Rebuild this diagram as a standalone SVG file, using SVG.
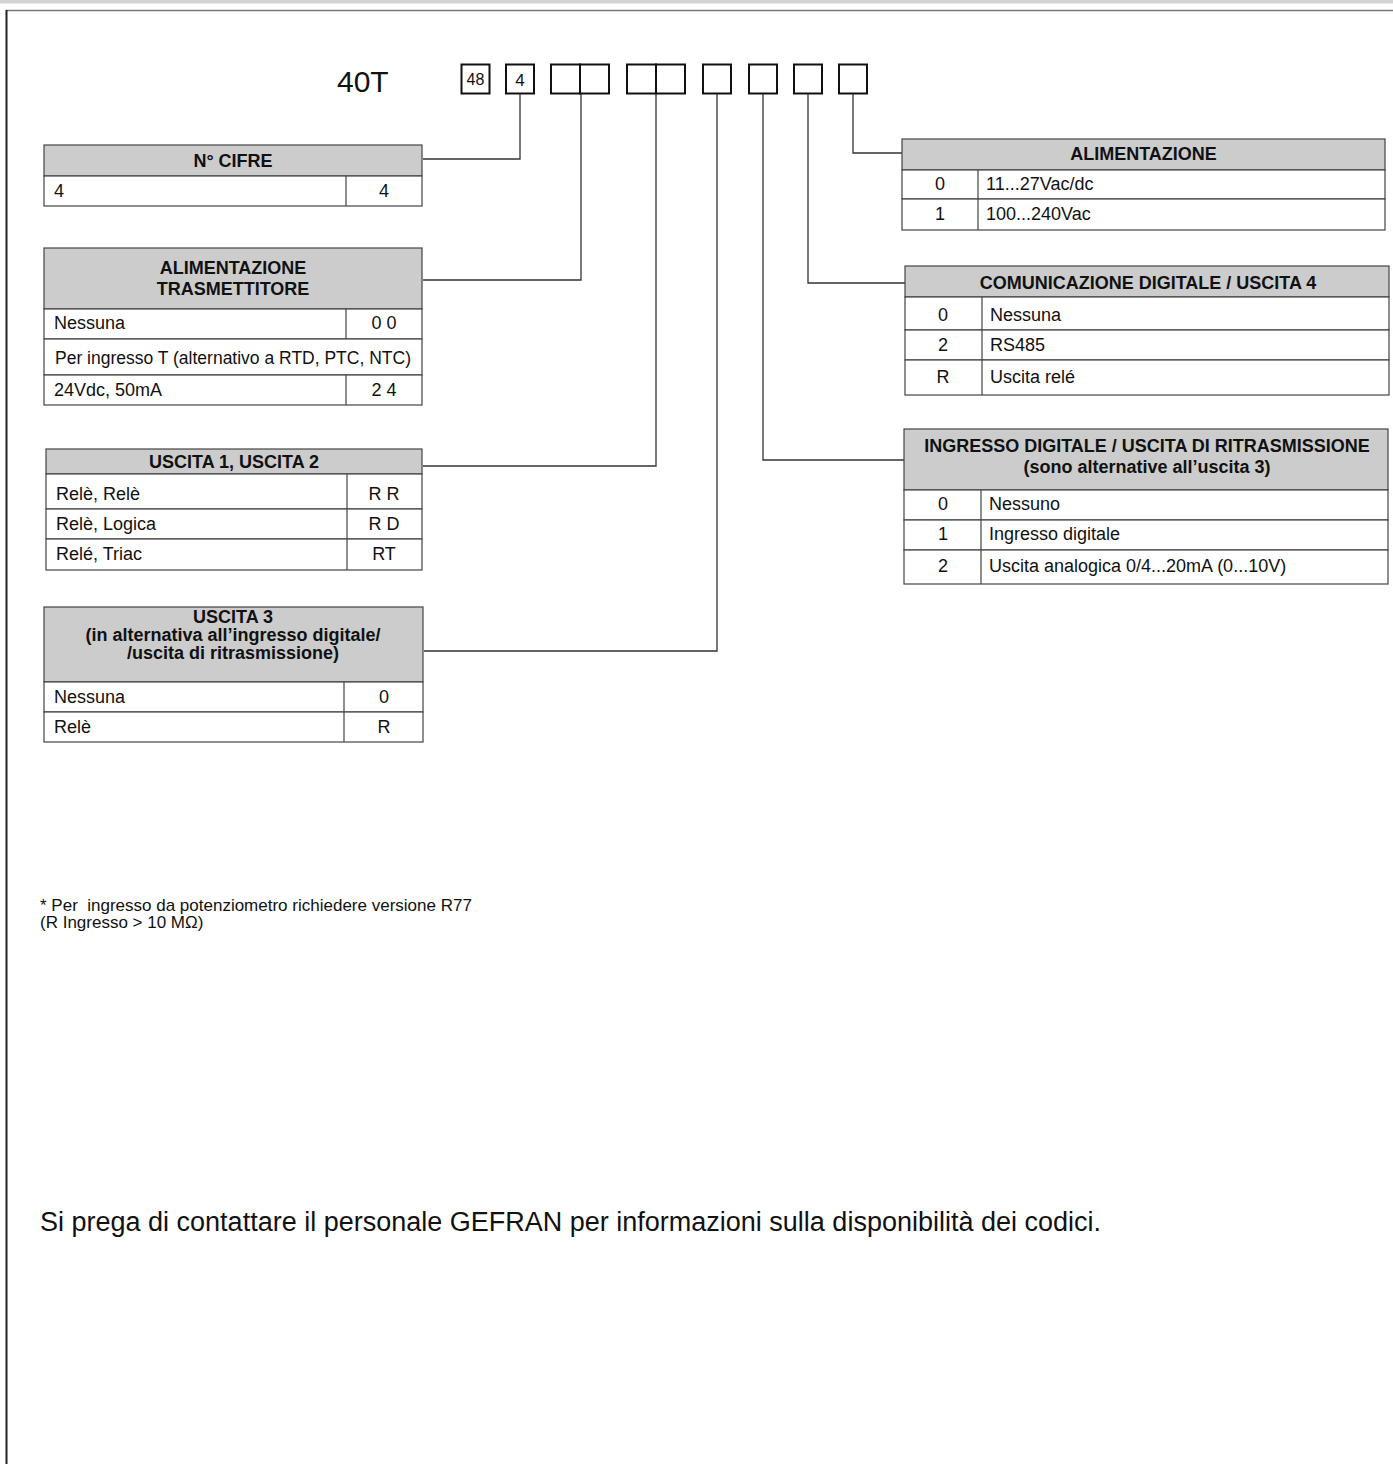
<svg xmlns="http://www.w3.org/2000/svg" width="1393" height="1464" viewBox="0 0 1393 1464">
<style>
.hdr{fill:#cccccc;stroke:#444;stroke-width:1.2}
.cell{fill:#fff;stroke:#444;stroke-width:1.2}
.div{stroke:#444;stroke-width:1.2}
.t{font-family:"Liberation Sans",Arial,sans-serif;font-size:18px;fill:#111}
.b{font-weight:bold}
.m{text-anchor:middle}
.conn{fill:none;stroke:#333;stroke-width:1.3}
.box{fill:#fff;stroke:#111;stroke-width:2}
</style>
<rect x="0" y="0" width="1393" height="1464" fill="#fff"/>
<g id="frame">
<rect x="0" y="0" width="1393" height="3.5" fill="#d2d2d2"/>
<line x1="6" y1="10.5" x2="1393" y2="10.5" stroke="#777" stroke-width="1.5"/>
<line x1="6.5" y1="10" x2="6.5" y2="1464" stroke="#222" stroke-width="2"/>
</g>
<g id="code">
<text class="t" x="337" y="92" style="font-size:30px">40T</text>
<rect class="box" x="461.5" y="64.5" width="28" height="29"/>
<text class="t m" x="475.5" y="85" style="font-size:16px">48</text>
<rect class="box" x="506" y="64.5" width="28" height="29"/>
<text class="t m" x="520" y="86" style="font-size:17px">4</text>
<rect class="box" x="551" y="64.5" width="29" height="29"/>
<rect class="box" x="580" y="64.5" width="29" height="29"/>
<rect class="box" x="627" y="64.5" width="29" height="29"/>
<rect class="box" x="656" y="64.5" width="29" height="29"/>
<rect class="box" x="703" y="64.5" width="28" height="29"/>
<rect class="box" x="749" y="64.5" width="28" height="29"/>
<rect class="box" x="794" y="64.5" width="28" height="29"/>
<rect class="box" x="839" y="64.5" width="28" height="29"/>
</g>
<g id="connectors">
<polyline class="conn" points="520,94 520,159 423,159"/>
<polyline class="conn" points="581,94 581,280 423,280"/>
<polyline class="conn" points="656,94 656,466 423,466"/>
<polyline class="conn" points="717,94 717,651 424,651"/>
<polyline class="conn" points="763,94 763,460 904,460"/>
<polyline class="conn" points="808,94 808,283 905,283"/>
<polyline class="conn" points="853,94 853,153 902,153"/>
</g>
<g id="n-cifre">
<rect class="hdr" x="44" y="145" width="378" height="31"/>
<rect class="cell" x="44" y="176" width="378" height="30"/>
<line class="div" x1="346" y1="176" x2="346" y2="206"/>
<text class="t b m" x="233" y="167">N° CIFRE</text>
<text class="t" x="54" y="197">4</text>
<text class="t m" x="384" y="197">4</text>
</g>
<g id="alim-trasm">
<rect class="hdr" x="44" y="248" width="378" height="61"/>
<rect class="cell" x="44" y="309" width="378" height="30"/>
<rect class="cell" x="44" y="339" width="378" height="36"/>
<rect class="cell" x="44" y="375" width="378" height="30"/>
<line class="div" x1="346" y1="309" x2="346" y2="339"/>
<line class="div" x1="346" y1="375" x2="346" y2="405"/>
<text class="t b m" x="233" y="274">ALIMENTAZIONE</text>
<text class="t b m" x="233" y="295">TRASMETTITORE</text>
<text class="t" x="54" y="329">Nessuna</text>
<text class="t m" x="384" y="329">0 0</text>
<text class="t m" x="233" y="364" style="font-size:17.5px">Per ingresso T (alternativo a RTD, PTC, NTC)</text>
<text class="t" x="54" y="396">24Vdc, 50mA</text>
<text class="t m" x="384" y="396">2 4</text>
</g>
<g id="uscita12">
<rect class="hdr" x="46" y="449" width="376" height="25"/>
<rect class="cell" x="46" y="474" width="376" height="35"/>
<rect class="cell" x="46" y="509" width="376" height="30"/>
<rect class="cell" x="46" y="539" width="376" height="31"/>
<line class="div" x1="347" y1="474" x2="347" y2="570"/>
<text class="t b m" x="234" y="468">USCITA 1, USCITA 2</text>
<text class="t" x="56" y="500">Relè, Relè</text>
<text class="t m" x="384" y="500">R R</text>
<text class="t" x="56" y="530">Relè, Logica</text>
<text class="t m" x="384" y="530">R D</text>
<text class="t" x="56" y="560">Relé, Triac</text>
<text class="t m" x="384" y="560">RT</text>
</g>
<g id="uscita3">
<rect class="hdr" x="44" y="607" width="379" height="75"/>
<rect class="cell" x="44" y="682" width="379" height="30"/>
<rect class="cell" x="44" y="712" width="379" height="30"/>
<line class="div" x1="344" y1="682" x2="344" y2="742"/>
<text class="t b m" x="233" y="623">USCITA 3</text>
<text class="t b m" x="233" y="641">(in alternativa all’ingresso digitale/</text>
<text class="t b m" x="233" y="659">/uscita di ritrasmissione)</text>
<text class="t" x="54" y="703">Nessuna</text>
<text class="t m" x="384" y="703">0</text>
<text class="t" x="54" y="733">Relè</text>
<text class="t m" x="384" y="733">R</text>
</g>
<g id="alimentazione">
<rect class="hdr" x="902" y="139" width="483" height="31"/>
<rect class="cell" x="902" y="170" width="483" height="29"/>
<rect class="cell" x="902" y="199" width="483" height="31"/>
<line class="div" x1="978" y1="170" x2="978" y2="230"/>
<text class="t b m" x="1143.5" y="160">ALIMENTAZIONE</text>
<text class="t m" x="940" y="190">0</text>
<text class="t" x="986" y="190">11...27Vac/dc</text>
<text class="t m" x="940" y="220">1</text>
<text class="t" x="986" y="220">100...240Vac</text>
</g>
<g id="comunicazione">
<rect class="hdr" x="905" y="266" width="484" height="31"/>
<rect class="cell" x="905" y="297" width="484" height="33"/>
<rect class="cell" x="905" y="330" width="484" height="30"/>
<rect class="cell" x="905" y="360" width="484" height="35"/>
<line class="div" x1="982" y1="297" x2="982" y2="395"/>
<text class="t b m" x="1148" y="289">COMUNICAZIONE DIGITALE / USCITA 4</text>
<text class="t m" x="943" y="321">0</text>
<text class="t" x="990" y="321">Nessuna</text>
<text class="t m" x="943" y="351">2</text>
<text class="t" x="990" y="351">RS485</text>
<text class="t m" x="943" y="383">R</text>
<text class="t" x="990" y="383">Uscita relé</text>
</g>
<g id="ingresso">
<rect class="hdr" x="904" y="429" width="484" height="61"/>
<rect class="cell" x="904" y="490" width="484" height="30"/>
<rect class="cell" x="904" y="520" width="484" height="30"/>
<rect class="cell" x="904" y="550" width="484" height="34"/>
<line class="div" x1="981" y1="490" x2="981" y2="584"/>
<text class="t b m" x="1147" y="452">INGRESSO DIGITALE / USCITA DI RITRASMISSIONE</text>
<text class="t b m" x="1147" y="473">(sono alternative all’uscita 3)</text>
<text class="t m" x="943" y="510">0</text>
<text class="t" x="989" y="510">Nessuno</text>
<text class="t m" x="943" y="540">1</text>
<text class="t" x="989" y="540">Ingresso digitale</text>
<text class="t m" x="943" y="572">2</text>
<text class="t" x="989" y="572">Uscita analogica 0/4...20mA (0...10V)</text>
</g>
<g id="notes">
<text class="t" x="40" y="911" style="font-size:17px;white-space:pre" xml:space="preserve">* Per  ingresso da potenziometro richiedere versione R77</text>
<text class="t" x="40" y="928" style="font-size:17px">(R Ingresso &gt; 10 MΩ)</text>
<text class="t" x="40" y="1231" style="font-size:27px">Si prega di contattare il personale GEFRAN per informazioni sulla disponibilità dei codici.</text>
</g>
</svg>
